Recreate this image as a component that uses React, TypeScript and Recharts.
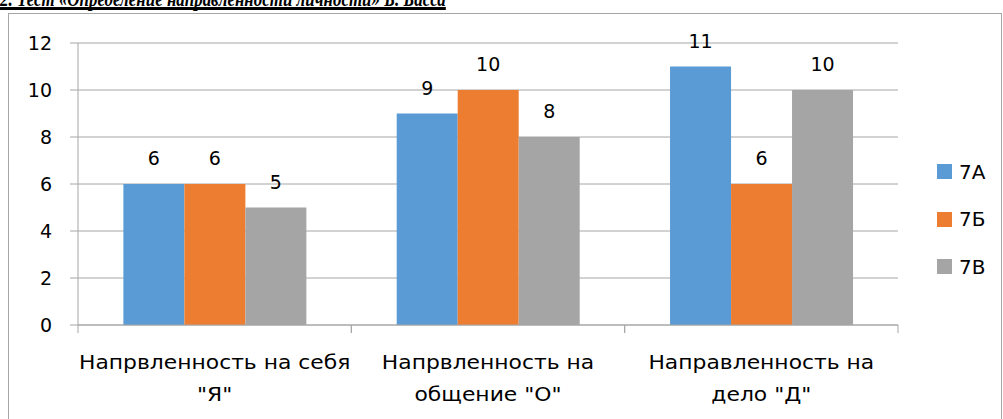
import React from 'react';
import { BarChart, Bar, XAxis, YAxis, CartesianGrid, Legend, LabelList } from 'recharts';

const categories = ['Напрвленность на себя\n"Я"', 'Напрвленность на\nобщение "О"', 'Направленность на\nдело "Д"'];
const series7A = [6, 9, 11];
const series7B = [6, 10, 6];
const series7V = [5, 8, 10];
const seriesNames = ['7А', '7Б', '7В'];
const seriesColors = ['#5B9BD5', '#ED7D31', '#A5A5A5'];
const yTicks = [0, 2, 4, 6, 8, 10, 12];
const titleText = '2. Тест «Определение направленности личности» Б. Басса';

const data = categories.map((c, i) => ({ category: c, a: series7A[i], b: series7B[i], v: series7V[i] }));

const GRID = '#a6a6a6';
const FONT = 'DejaVu Sans';
const STRETCH = 1.15;

const CategoryTick = (props: any) => {
  const { x, y, payload } = props;
  const half = payload && payload.offset != null ? payload.offset : 0;
  const lines = String(payload.value).split('\n');
  return (
    <g>
      <line x1={x - half} x2={x - half} y1={y - 8} y2={y} stroke={GRID} />
      <line x1={x + half} x2={x + half} y1={y - 8} y2={y} stroke={GRID} />
      {lines.map((l, i) => (
        <text
          key={i}
          transform={`translate(${x},${y + 30 + i * 32}) scale(${STRETCH},1)`}
          x={0}
          y={0}
          textAnchor="middle"
          dominantBaseline="central"
          fontSize={19}
          fontFamily={FONT}
          fill="#000"
        >
          {l}
        </text>
      ))}
    </g>
  );
};

const renderLegend = (props: any) => {
  const payload = props.payload || [];
  return (
    <div style={{ fontFamily: FONT, fontSize: 20, color: '#000' }}>
      {payload.map((p: any, i: number) => (
        <div key={i} style={{ display: 'flex', alignItems: 'center', height: 47.5 }}>
          <span style={{ display: 'inline-block', width: 15, height: 15, background: p.color, marginRight: 7 }} />
          <span>{p.value}</span>
        </div>
      ))}
    </div>
  );
};

export default function App() {
  return (
    <div style={{ position: 'absolute', left: 0, top: 0, width: 1003, height: 419, overflow: 'hidden', background: '#fff' }}>
      <div
        style={{
          position: 'absolute',
          left: 8,
          top: 13,
          width: 994,
          height: 440,
          border: `1px solid ${GRID}`,
          boxSizing: 'border-box',
        }}
      />
      <span
        style={{
          position: 'absolute',
          left: 0,
          top: -9,
          display: 'inline-block',
          whiteSpace: 'nowrap',
          fontFamily: 'Liberation Serif',
          fontWeight: 'bold',
          fontStyle: 'italic',
          fontSize: 22,
          lineHeight: '16px',
          borderBottom: '3px solid #000',
          color: '#000',
          transform: 'scaleX(0.77)',
          transformOrigin: '0 0',
        }}
      >
        {titleText}
      </span>
      <div style={{ position: 'absolute', left: 0, top: 0 }}>
        <BarChart
          width={1003}
          height={419}
          data={data}
          margin={{ top: 43, right: 105, left: 28, bottom: 34 }}
          barCategoryGap="16.6%"
          barGap={0}
          style={{ fontFamily: FONT }}
        >
          <CartesianGrid horizontal={true} vertical={false} stroke={GRID} />
          <XAxis
            dataKey="category"
            interval={0}
            height={60}
            tickSize={8}
            tickMargin={0}
            tickLine={false}
            axisLine={{ stroke: GRID }}
            tick={<CategoryTick />}
          />
          <YAxis
            domain={[0, 12]}
            ticks={yTicks}
            width={50}
            tickSize={8}
            tickMargin={18}
            axisLine={{ stroke: GRID }}
            tickLine={{ stroke: GRID }}
            tick={{ fill: '#000', fontSize: 19, fontFamily: FONT }}
          />
          <Legend
            layout="vertical"
            align="center"
            verticalAlign="middle"
            content={renderLegend}
            wrapperStyle={{ left: 937, top: 148, width: 66 }}
          />
          <Bar dataKey="a" name={seriesNames[0]} fill={seriesColors[0]} isAnimationActive={false}>
            <LabelList dataKey="a" position="top" offset={19} fill="#000" fontSize={19} fontFamily={FONT} />
          </Bar>
          <Bar dataKey="b" name={seriesNames[1]} fill={seriesColors[1]} isAnimationActive={false}>
            <LabelList dataKey="b" position="top" offset={19} fill="#000" fontSize={19} fontFamily={FONT} />
          </Bar>
          <Bar dataKey="v" name={seriesNames[2]} fill={seriesColors[2]} isAnimationActive={false}>
            <LabelList dataKey="v" position="top" offset={19} fill="#000" fontSize={19} fontFamily={FONT} />
          </Bar>
        </BarChart>
      </div>
    </div>
  );
}
